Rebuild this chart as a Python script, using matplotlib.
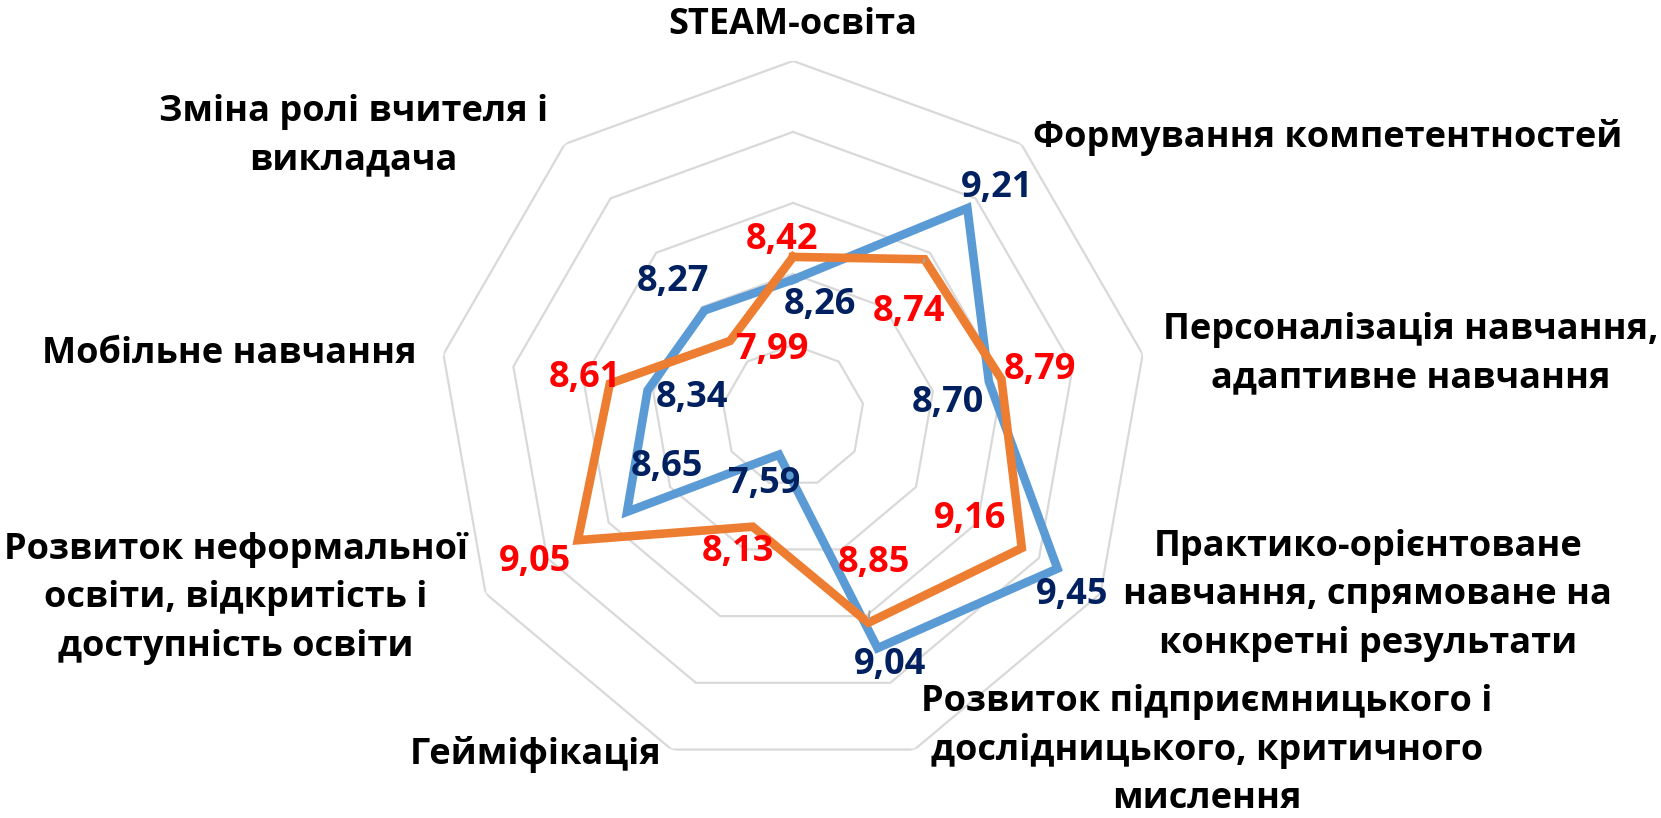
import numpy as np
import matplotlib.pyplot as plt

plt.rcParams['font.family'] = ['Open Sans', 'DejaVu Sans']

categories = ['STEAM-освіта',
              'Формування компетентностей',
              'Персоналізація навчання,\nадаптивне навчання',
              'Практико-орієнтоване\nнавчання, спрямоване на\nконкретні результати',
              'Розвиток підприємницького і\nдослідницького, критичного\nмислення',
              'Гейміфікація',
              'Розвиток неформальної\nосвіти, відкритість і\nдоступність освіти',
              'Мобільне навчання',
              'Зміна ролі вчителя і\nвикладача']

blue_vals = [8.26, 9.21, 8.70, 9.45, 9.04, 7.59, 8.65, 8.34, 8.27]
orange_vals = [8.42, 8.74, 8.79, 9.16, 8.85, 8.13, 9.05, 8.61, 7.99]

r_min, r_max = 7.3, 9.8
rings = [7.8, 8.3, 8.8, 9.3, 9.8]

blue_line = '#5B9BD5'
orange_line = '#ED7D31'
blue_text = '#002060'
red_text = '#FF0000'
grid_col = '#D9D9D9'

N = len(categories)
theta = np.arange(N) * 2 * np.pi / N
theta_c = np.append(theta, theta[0])

fig = plt.figure(figsize=(16.61, 8.18), dpi=100)
ax = fig.add_axes([0.2637, 0.0575, 0.4275, 0.8680], projection='polar')
ax.set_theta_zero_location('N')
ax.set_theta_direction(-1)
ax.set_ylim(r_min, r_max)
ax.grid(False)
ax.spines['polar'].set_visible(False)
ax.set_xticks([])
ax.set_yticks([])

# polygon rings
for rv in rings:
    ax.plot(theta_c, [rv] * (N + 1), color=grid_col, lw=1.6, zorder=1)

ax.plot(theta_c, blue_vals + blue_vals[:1], color=blue_line, lw=6.2,
        solid_joinstyle='miter', zorder=3)
ax.plot(theta_c, orange_vals + orange_vals[:1], color=orange_line, lw=6.2,
        solid_joinstyle='miter', zorder=4)

# data labels (offsets in pixels from the point)
blue_off = [(27, -25), (30, 20), (-41, -22), (15, -26), (13, -17),
            (-15, -29), (40, 45), (44, -8), (-32, 28)]
orange_off = [(-11, 17), (-15, -53), (39, 9), (-52, 29), (6, 60),
              (-15, -25), (-43, -22), (-25, 6), (42, -9)]
leader = {1: 22, 4: 20}

for i in range(N):
    ax.annotate(f'{blue_vals[i]:.2f}'.replace('.', ','), xy=(theta[i], blue_vals[i]),
                xytext=blue_off[i], textcoords='offset pixels',
                ha='center', va='center', fontsize=26, fontweight='bold',
                color=blue_text, zorder=6)
    ap = None
    if i in leader:
        ap = dict(arrowstyle='-', color='#A6A6A6', lw=1.5,
                  shrinkA=leader[i], shrinkB=3)
    ax.annotate(f'{orange_vals[i]:.2f}'.replace('.', ','), xy=(theta[i], orange_vals[i]),
                xytext=orange_off[i], textcoords='offset pixels',
                ha='center', va='center', fontsize=26, fontweight='bold',
                color=red_text, zorder=6, arrowprops=ap)

# category labels
cat_pos = [('center', 0, 36), ('left', 12, 6), ('left', 20, 0),
           ('left', 23, -2), ('left', 7, -1), ('right', -10, -5),
           ('right', -18, -5), ('right', -27, 0), ('right', -17, 8)]
for i, (ha, dx, dy) in enumerate(cat_pos):
    ax.annotate(categories[i], xy=(theta[i], r_max), xytext=(dx, dy),
                textcoords='offset pixels', ha=ha, va='center',
                multialignment='center', fontsize=26, fontweight='bold',
                color='black', linespacing=1.45 if i == 4 else 1.47,
                annotation_clip=False)

fig.savefig('out.png', dpi=100)
